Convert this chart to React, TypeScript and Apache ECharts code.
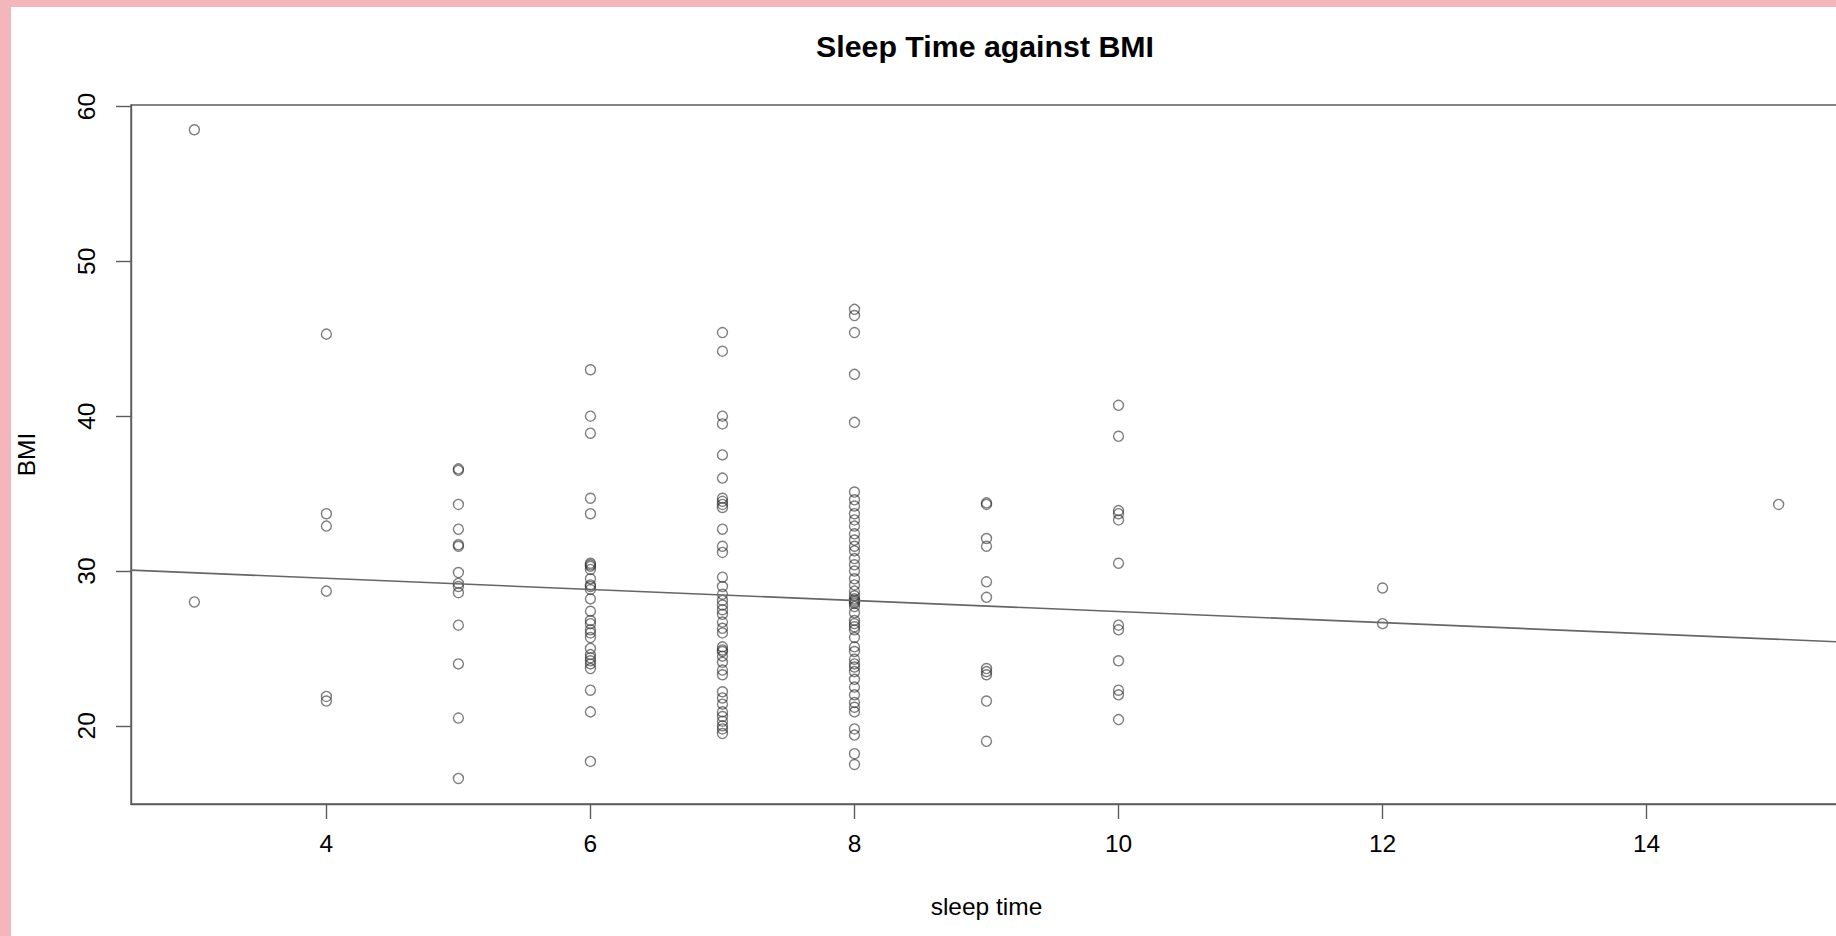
import React, { useEffect, useRef } from "react";
import * as echarts from "echarts";

// ---- Data ----
const sleepHours = [3, 4, 5, 6, 7, 8, 9, 10, 12, 15];
const bmi3 = [58.5, 28.0];
const bmi4 = [45.3, 33.7, 32.9, 28.7, 21.9, 21.6];
const bmi5 = [36.6, 36.5, 34.3, 32.7, 31.7, 31.6, 29.9, 29.2, 29.0, 28.6, 26.5, 24.0, 20.5, 16.6];
const bmi6 = [43.0, 40.0, 38.9, 34.7, 33.7, 30.5, 30.4, 30.3, 30.1, 29.5, 29.1, 29.0, 28.8, 28.2, 27.4, 26.8, 26.6, 26.2, 26.0, 25.7, 25.0, 24.6, 24.4, 24.2, 24.0, 23.7, 22.3, 20.9, 17.7];
const bmi7 = [45.4, 44.2, 40.0, 39.5, 37.5, 36.0, 34.7, 34.5, 34.3, 34.1, 32.7, 31.6, 31.2, 29.6, 29.0, 28.5, 28.1, 27.8, 27.5, 27.2, 26.7, 26.3, 26.0, 25.1, 24.9, 24.8, 24.5, 24.1, 23.6, 23.3, 22.2, 21.8, 21.4, 20.9, 20.6, 20.3, 20.0, 19.8, 19.5];
const bmi8 = [46.9, 46.5, 45.4, 42.7, 39.6, 35.1, 34.6, 34.2, 33.7, 33.3, 32.9, 32.4, 32.0, 31.6, 31.3, 30.8, 30.4, 30.0, 29.5, 29.1, 28.7, 28.4, 28.2, 28.1, 28.0, 27.9, 27.7, 27.3, 26.8, 26.6, 26.4, 26.2, 25.7, 25.1, 24.8, 24.3, 24.0, 23.8, 23.5, 23.0, 22.5, 22.0, 21.5, 21.2, 20.9, 19.8, 19.4, 18.2, 17.5];
const bmi9 = [34.4, 34.3, 32.1, 31.6, 29.3, 28.3, 23.7, 23.5, 23.3, 21.6, 19.0];
const bmi10 = [40.7, 38.7, 33.9, 33.7, 33.3, 30.5, 26.5, 26.2, 24.2, 22.3, 22.0, 20.4];
const bmi12 = [28.9, 26.6];
const bmi15 = [34.3];
const bmiByHour = [bmi3, bmi4, bmi5, bmi6, bmi7, bmi8, bmi9, bmi10, bmi12, bmi15];

// fitted regression line (abline): intercept and slope
const fitIntercept = 30.96;
const fitSlope = -0.358;

// axis ranges and tick labels
const xRange = [2.52, 15.48];
const yRange = [14.95, 60.1];
const xTicks = [4, 6, 8, 10, 12, 14];
const yTicks = [20, 30, 40, 50, 60];

const FONT = "'Liberation Sans', Arial, sans-serif";

export default function App() {
  const ref = useRef<HTMLDivElement>(null);

  useEffect(() => {
    if (!ref.current) return;
    const chart = echarts.init(ref.current, undefined, { renderer: "svg" });

    const points: number[][] = [];
    sleepHours.forEach((h, i) => {
      bmiByHour[i].forEach((v) => points.push([h, v]));
    });
    const fitLine = xRange.map((x) => [x, fitIntercept + fitSlope * x]);

    const lineColor = "#5c5c5c";

    chart.setOption({
      animation: false,
      backgroundColor: "#ffffff",
      title: {
        text: "Sleep Time against BMI",
        left: 974,
        top: 24,
        padding: 0,
        textAlign: "center",
        textStyle: {
          fontFamily: FONT,
          fontSize: 30.3,
          fontWeight: "bold",
          color: "#000",
        },
      },
      grid: {
        left: 120,
        right: 19,
        top: 98,
        bottom: 132,
        outerBoundsMode: "none",
        containLabel: false,
        show: true,
        borderColor: lineColor,
        borderWidth: 1.4,
        backgroundColor: "transparent",
      },
      xAxis: {
        type: "value",
        min: xRange[0],
        max: xRange[1],
        name: "sleep time",
        nameLocation: "middle",
        nameGap: 90,
        nameTextStyle: { fontFamily: FONT, fontSize: 24.5, color: "#000" },
        axisLine: { show: true, lineStyle: { color: lineColor, width: 1.4 } },
        axisTick: {
          show: true,
          length: 15,
          customValues: xTicks,
          lineStyle: { color: lineColor, width: 1.4 },
        },
        axisLabel: {
          customValues: xTicks,
          margin: 27,
          fontFamily: FONT,
          fontSize: 24.5,
          color: "#000",
        },
        splitLine: { show: false },
      },
      yAxis: {
        type: "value",
        min: yRange[0],
        max: yRange[1],
        name: "BMI",
        nameLocation: "middle",
        nameGap: 92,
        nameTextStyle: { fontFamily: FONT, fontSize: 24.5, color: "#000" },
        axisLine: { show: true, lineStyle: { color: lineColor, width: 1.4 } },
        axisTick: {
          show: true,
          length: 15,
          customValues: yTicks,
          lineStyle: { color: lineColor, width: 1.4 },
        },
        axisLabel: {
          customValues: yTicks,
          rotate: 90,
          margin: 32,
          fontFamily: FONT,
          fontSize: 24.5,
          color: "#000",
        },
        splitLine: { show: false },
      },
      series: [
        {
          type: "scatter",
          name: "BMI",
          data: points,
          symbol: "circle",
          symbolSize: 10,
          itemStyle: {
            color: "transparent",
            borderColor: "rgba(40,40,40,0.75)",
            borderWidth: 1.4,
          },
          emphasis: { disabled: true },
          silent: true,
        },
        {
          type: "line",
          name: "fit",
          data: fitLine,
          showSymbol: false,
          symbol: "none",
          lineStyle: { color: "#666", width: 1.6 },
          silent: true,
          clip: true,
        },
      ],
    });

    return () => chart.dispose();
  }, []);

  return (
    <div
      style={{
        position: "fixed",
        left: 0,
        top: 0,
        width: 1836,
        height: 936,
        background: "#F3B6BA",
        overflow: "hidden",
      }}
    >
      <div
        ref={ref}
        style={{
          position: "absolute",
          left: 11,
          top: 7,
          width: 1850,
          height: 929,
          background: "#fff",
        }}
      />
    </div>
  );
}
